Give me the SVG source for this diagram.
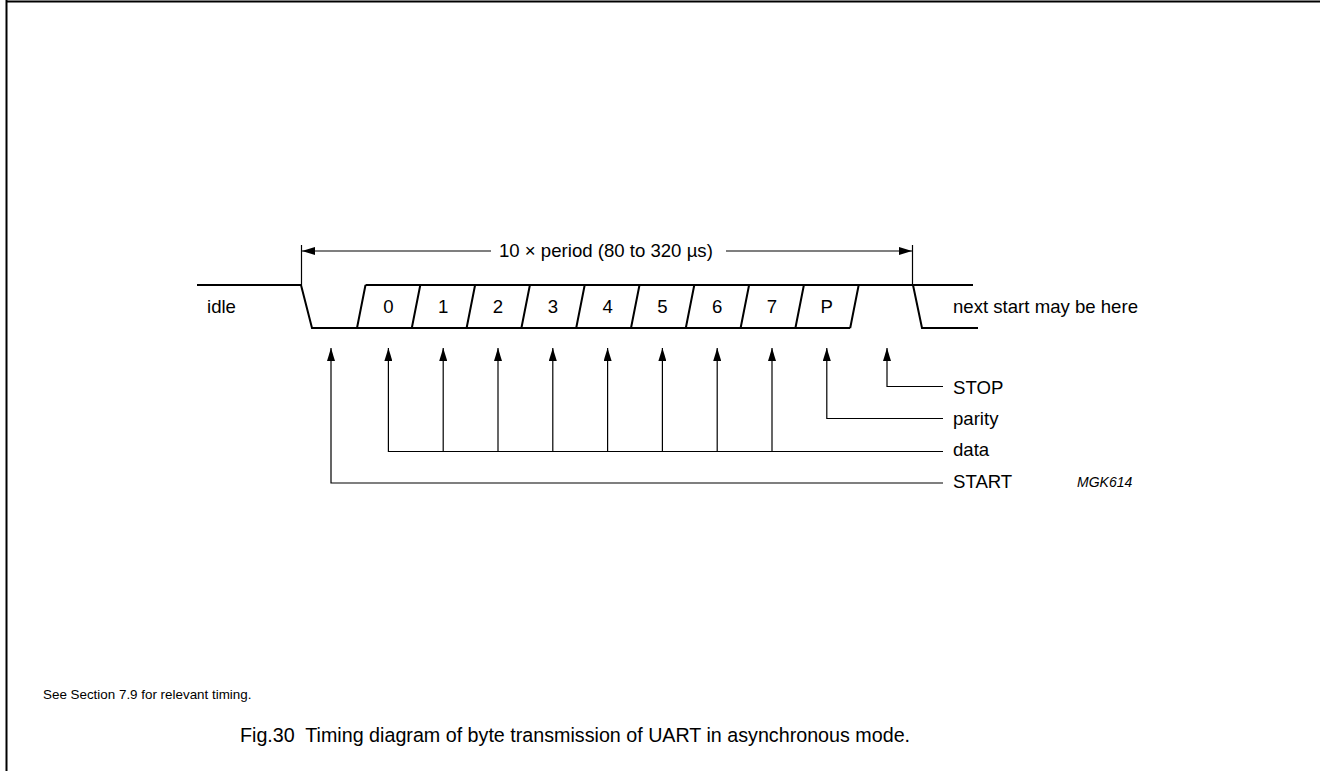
<svg xmlns="http://www.w3.org/2000/svg" width="1325" height="771" viewBox="0 0 1325 771">
<style>
text{font-family:"Liberation Sans",Arial,sans-serif;fill:#000}
.lbl{font-size:18.6px}
.sig{fill:none;stroke:#000;stroke-width:2;stroke-linejoin:miter}
.ln{fill:none;stroke:#000;stroke-width:1.2}
</style>
<defs>
<marker id="ah" viewBox="0 0 13 8" refX="13" refY="4" markerWidth="13" markerHeight="8" markerUnits="userSpaceOnUse" orient="auto">
<path d="M0,0 L13,4 L0,8 Z" fill="#000"/>
</marker>
</defs>
<rect width="1325" height="771" fill="#fff"/>
<g id="frame">
<line x1="6.5" y1="0" x2="6.5" y2="771" stroke="#000" stroke-width="2"/>
<line x1="6" y1="1.5" x2="1320" y2="1.5" stroke="#000" stroke-width="2"/>
</g>
<g id="signal">
<path class="sig" d="M197,285 H301 L312,328 H850.2"/>
<path class="sig" d="M365.5,285 H973"/>
<path class="sig" d="M913,285 L922,328 H978"/>
<path class="sig" d="M357,328 L365.5,285 M411.8,328 L420.3,285 M466.6,328 L475.1,285 M521.4,328 L529.9,285 M576.2,328 L584.7,285 M631,328 L639.5,285 M685.8,328 L694.3,285 M740.6,328 L749.1,285 M795.4,328 L803.9,285 M850.2,328 L858.7,285"/>
</g>
<g id="bit-labels" class="lbl" text-anchor="middle">
<text x="388.4" y="313">0</text>
<text x="443.2" y="313">1</text>
<text x="498" y="313">2</text>
<text x="552.8" y="313">3</text>
<text x="607.6" y="313">4</text>
<text x="662.4" y="313">5</text>
<text x="717.2" y="313">6</text>
<text x="772" y="313">7</text>
<text x="826.8" y="313">P</text>
</g>
<g id="idle"><text class="lbl" x="207" y="313">idle</text></g>
<g id="next-start"><text class="lbl" x="953" y="313">next start may be here</text></g>
<g id="period">
<line class="ln" x1="301.5" y1="245" x2="301.5" y2="285"/>
<line class="ln" x1="912.5" y1="245" x2="912.5" y2="285"/>
<text class="lbl" x="499" y="257">10 × period (80 to 320 µs)</text>
</g>
<g id="connectors">
<line class="ln" x1="491" y1="251" x2="302" y2="251" marker-end="url(#ah)"/>
<line class="ln" x1="726" y1="251" x2="912" y2="251" marker-end="url(#ah)"/>
<path class="ln" d="M943,483 H331 V348" marker-end="url(#ah)"/>
<path class="ln" d="M943,451.5 H388.4 V348" marker-end="url(#ah)"/>
<path class="ln" d="M443.2,451.5 V348" marker-end="url(#ah)"/>
<path class="ln" d="M498,451.5 V348" marker-end="url(#ah)"/>
<path class="ln" d="M552.8,451.5 V348" marker-end="url(#ah)"/>
<path class="ln" d="M607.6,451.5 V348" marker-end="url(#ah)"/>
<path class="ln" d="M662.4,451.5 V348" marker-end="url(#ah)"/>
<path class="ln" d="M717.2,451.5 V348" marker-end="url(#ah)"/>
<path class="ln" d="M772,451.5 V348" marker-end="url(#ah)"/>
<path class="ln" d="M943,418.5 H826.8 V348" marker-end="url(#ah)"/>
<path class="ln" d="M943,386.5 H887 V348" marker-end="url(#ah)"/>
</g>
<g id="stop"><text class="lbl" x="953" y="394">STOP</text></g>
<g id="parity"><text class="lbl" x="953" y="425">parity</text></g>
<g id="data"><text class="lbl" x="953" y="456">data</text></g>
<g id="start"><text class="lbl" x="953" y="488">START</text></g>
<g id="code"><text x="1077" y="487" font-size="14" font-style="italic">MGK614</text></g>
<g id="note"><text x="43" y="699" font-size="13.4">See Section 7.9 for relevant timing.</text></g>
<g id="caption"><text x="240" y="742" font-size="19.7">Fig.30&#160; Timing diagram of byte transmission of UART in asynchronous mode.</text></g>
</svg>
